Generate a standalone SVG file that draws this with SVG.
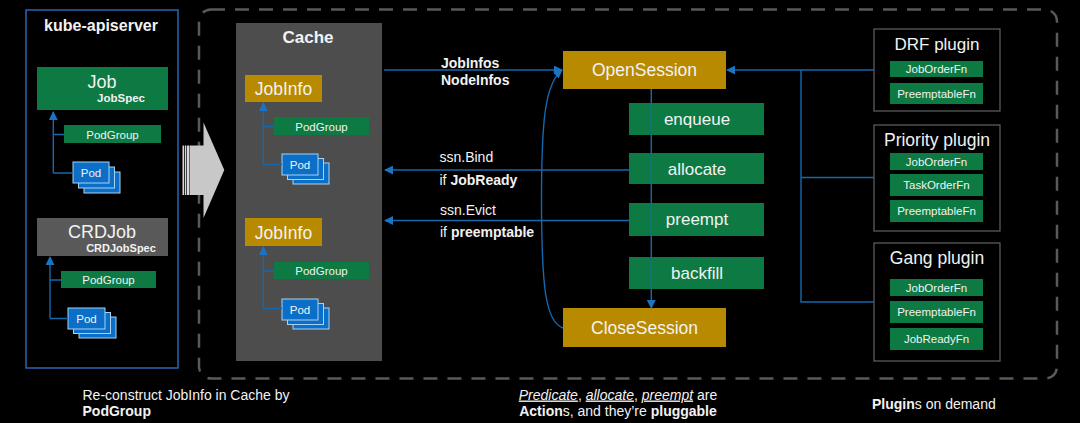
<svg xmlns="http://www.w3.org/2000/svg" width="1080" height="423" viewBox="0 0 1080 423">
<defs>
<style>
text{font-family:"Liberation Sans",Arial,sans-serif;fill:#f2f2f2}
.b{font-weight:bold}
.t17{font-size:17.5px}
.t14{font-size:14px}
.t11{font-size:11.5px}
.mid{text-anchor:middle}
.green{fill:#0c7a42}
.gold{fill:#b88a00}
.pod{fill:#0b6fc8;stroke:#a9d2f2;stroke-width:1}
.plug{fill:none;stroke:#5a5a5a;stroke-width:1.3}
.con{fill:none;stroke:#1668ad;stroke-width:1.4}
</style>
<marker id="ah" viewBox="0 0 10 10" refX="9" refY="5" markerWidth="9" markerHeight="9" markerUnits="userSpaceOnUse" orient="auto"><path d="M0,0 L10,5 L0,10 z" fill="#1a74c2"/></marker>
</defs>
<rect width="1080" height="423" fill="#000"/>

<rect id="scheduler-frame" x="199" y="9.5" width="858" height="369" rx="12" fill="none" stroke="#5a5a5a" stroke-width="2.5" stroke-dasharray="14 10"/>

<g id="big-arrow">
<rect x="182.5" y="145.5" width="1.5" height="49.5" fill="#d8d8d8"/>
<rect x="184.8" y="145.5" width="1.5" height="49.5" fill="#d8d8d8"/>
<rect x="187" y="145.5" width="2" height="49.5" fill="#d8d8d8"/>
<path d="M189.5,145.5 L203.5,145.5 L203.5,122.5 L224.3,170 L203.5,218 L203.5,195 L189.5,195 Z" fill="#c8c8c8"/>
</g>

<g id="kube-apiserver">
<rect x="26" y="10" width="152" height="358" fill="none" stroke="#2a64b7" stroke-width="1.5"/>
<text x="101" y="31" class="b mid" font-size="16">kube-apiserver</text>
</g>
<g id="job">
<rect x="37" y="67" width="131" height="43" class="green"/>
<text x="102" y="88" class="mid" font-size="18">Job</text>
<text x="121" y="102" class="b mid t11">JobSpec</text>
</g>
<g id="job-podgroup">
<rect x="64" y="125" width="97" height="18" class="green"/>
<text x="112.5" y="138.5" class="mid t11">PodGroup</text>
</g>
<g id="job-pod">
<rect x="84" y="172" width="36" height="21" class="pod"/>
<rect x="78.5" y="167" width="36" height="21" class="pod"/>
<rect x="73" y="162" width="36" height="21" class="pod"/>
<text x="91" y="177" class="mid t11">Pod</text>
</g>
<g id="crdjob">
<rect x="37" y="218" width="131" height="38" fill="#595959"/>
<text x="102" y="238" class="mid" font-size="18">CRDJob</text>
<text x="121" y="252" class="b mid" font-size="11">CRDJobSpec</text>
</g>
<g id="crdjob-podgroup">
<rect x="61" y="271" width="95" height="17" class="green"/>
<text x="108.5" y="284" class="mid t11">PodGroup</text>
</g>
<g id="crdjob-pod">
<rect x="79" y="317" width="37" height="21" class="pod"/>
<rect x="73.5" y="312.5" width="37" height="21" class="pod"/>
<rect x="68" y="308" width="37" height="21" class="pod"/>
<text x="86.5" y="323" class="mid t11">Pod</text>
</g>

<g id="cache">
<rect x="236" y="23" width="146" height="338" fill="#4d4d4d"/>
<text x="308" y="43" class="b mid" font-size="17">Cache</text>
</g>
<g id="jobinfo1">
<rect x="245" y="75" width="77" height="27" class="gold"/>
<text x="283.5" y="95" class="mid t17">JobInfo</text>
</g>
<g id="jobinfo1-podgroup">
<rect x="274" y="117" width="95" height="18" class="green"/>
<text x="321.5" y="130.5" class="mid t11">PodGroup</text>
</g>
<g id="jobinfo1-pod">
<rect x="293" y="163" width="36" height="21" class="pod"/>
<rect x="287.5" y="158.5" width="36" height="21" class="pod"/>
<rect x="282" y="154" width="36" height="21" class="pod"/>
<text x="300" y="169" class="mid t11">Pod</text>
</g>
<g id="jobinfo2">
<rect x="245" y="218" width="77" height="28" class="gold"/>
<text x="283.5" y="238.5" class="mid t17">JobInfo</text>
</g>
<g id="jobinfo2-podgroup">
<rect x="274" y="262" width="95" height="17" class="green"/>
<text x="321.5" y="275" class="mid t11">PodGroup</text>
</g>
<g id="jobinfo2-pod">
<rect x="293" y="308" width="36" height="21" class="pod"/>
<rect x="287.5" y="303.5" width="36" height="21" class="pod"/>
<rect x="282" y="299" width="36" height="21" class="pod"/>
<text x="300" y="314" class="mid t11">Pod</text>
</g>

<g id="opensession">
<rect x="563" y="51" width="163" height="38" class="gold"/>
<text x="644.5" y="76" class="mid t17">OpenSession</text>
</g>
<g id="enqueue">
<rect x="629" y="103" width="135" height="32" class="green"/>
<text x="697" y="125" class="mid" font-size="17">enqueue</text>
</g>
<g id="allocate">
<rect x="629" y="153" width="135" height="31" class="green"/>
<text x="697" y="175" class="mid" font-size="17">allocate</text>
</g>
<g id="preempt">
<rect x="629" y="203" width="135" height="33" class="green"/>
<text x="697" y="225" class="mid" font-size="17">preempt</text>
</g>
<g id="backfill">
<rect x="629" y="257" width="135" height="32" class="green"/>
<text x="697" y="279" class="mid" font-size="17">backfill</text>
</g>
<g id="closesession">
<rect x="563" y="308" width="163" height="39" class="gold"/>
<text x="644.5" y="334" class="mid t17">CloseSession</text>
</g>

<g id="drf-plugin">
<rect x="874" y="29" width="126" height="82" class="plug"/>
<text x="937" y="49.5" class="mid" font-size="17">DRF plugin</text>
<rect x="890" y="61" width="93" height="16" class="green"/>
<text x="936.5" y="73" class="mid t11">JobOrderFn</text>
<rect x="890" y="83" width="93" height="21" class="green"/>
<text x="936.5" y="98" class="mid t11">PreemptableFn</text>
</g>
<g id="priority-plugin">
<rect x="874" y="125" width="126" height="106" class="plug"/>
<text x="937" y="145.5" class="mid t17">Priority plugin</text>
<rect x="890" y="153" width="93" height="17" class="green"/>
<text x="936.5" y="165.5" class="mid t11">JobOrderFn</text>
<rect x="890" y="174" width="93" height="22" class="green"/>
<text x="936.5" y="189" class="mid t11">TaskOrderFn</text>
<rect x="890" y="200" width="93" height="22" class="green"/>
<text x="936.5" y="215" class="mid t11">PreemptableFn</text>
</g>
<g id="gang-plugin">
<rect x="874" y="243" width="126" height="118" class="plug"/>
<text x="937" y="264" class="mid t17">Gang plugin</text>
<rect x="890" y="279" width="93" height="17" class="green"/>
<text x="936.5" y="291.5" class="mid t11">JobOrderFn</text>
<rect x="890" y="301" width="93" height="22" class="green"/>
<text x="936.5" y="316" class="mid t11">PreemptableFn</text>
<rect x="890" y="328" width="93" height="22" class="green"/>
<text x="936.5" y="343" class="mid t11">JobReadyFn</text>
</g>

<g id="connectors">
<path class="con" d="M53.3,173 V112" marker-end="url(#ah)"/>
<path class="con" d="M53.3,173 H73 M53.3,134.5 H64"/>
<path class="con" d="M50,318.5 V257" marker-end="url(#ah)"/>
<path class="con" d="M50,318.5 H68 M50,280 H61"/>
<path class="con" d="M263.3,164.5 V103" marker-end="url(#ah)"/>
<path class="con" d="M263.3,164.5 H282 M263.3,126.5 H274"/>
<path class="con" d="M263.3,308.5 V247" marker-end="url(#ah)"/>
<path class="con" d="M263.3,308.5 H282 M263.3,271 H274"/>
<path class="con" d="M384,70 H562" marker-end="url(#ah)"/>
<path class="con" d="M629,170 H385" marker-end="url(#ah)"/>
<path class="con" d="M629,220.5 H385" marker-end="url(#ah)"/>
<path class="con" d="M651.3,89 V308" marker-end="url(#ah)"/>
<path class="con" d="M563,328 C546,322 541.5,290 541.5,200 C541.5,120 545,84 562,70" marker-end="url(#ah)"/>
<path class="con" d="M874,70 H727" marker-end="url(#ah)"/>
<path class="con" d="M801,70 V302 H874 M801,177.5 H874"/>
</g>

<g id="labels">
<text x="441" y="68" class="b t14">JobInfos</text>
<text x="441" y="84.5" class="b t14">NodeInfos</text>
<text x="439.5" y="162" class="t14">ssn.Bind</text>
<text x="439.5" y="185" class="t14">if <tspan class="b">JobReady</tspan></text>
<text x="440" y="214.5" class="t14">ssn.Evict</text>
<text x="440" y="237" class="t14">if <tspan class="b">preemptable</tspan></text>
<text x="82.5" y="400" class="t14">Re-construct JobInfo in Cache by</text>
<text x="82.5" y="416" class="b t14">PodGroup</text>
<text x="618" y="399.5" class="mid t14"><tspan font-style="italic" text-decoration="underline">Predicate</tspan>, <tspan font-style="italic" text-decoration="underline">allocate</tspan>, <tspan font-style="italic" text-decoration="underline">preempt</tspan> are</text>
<text x="618" y="416" class="mid t14"><tspan class="b">Action</tspan>s, and they’re <tspan class="b">pluggable</tspan></text>
<text x="872" y="408.5" class="t14"><tspan class="b">Plugin</tspan>s on demand</text>
</g>
</svg>
